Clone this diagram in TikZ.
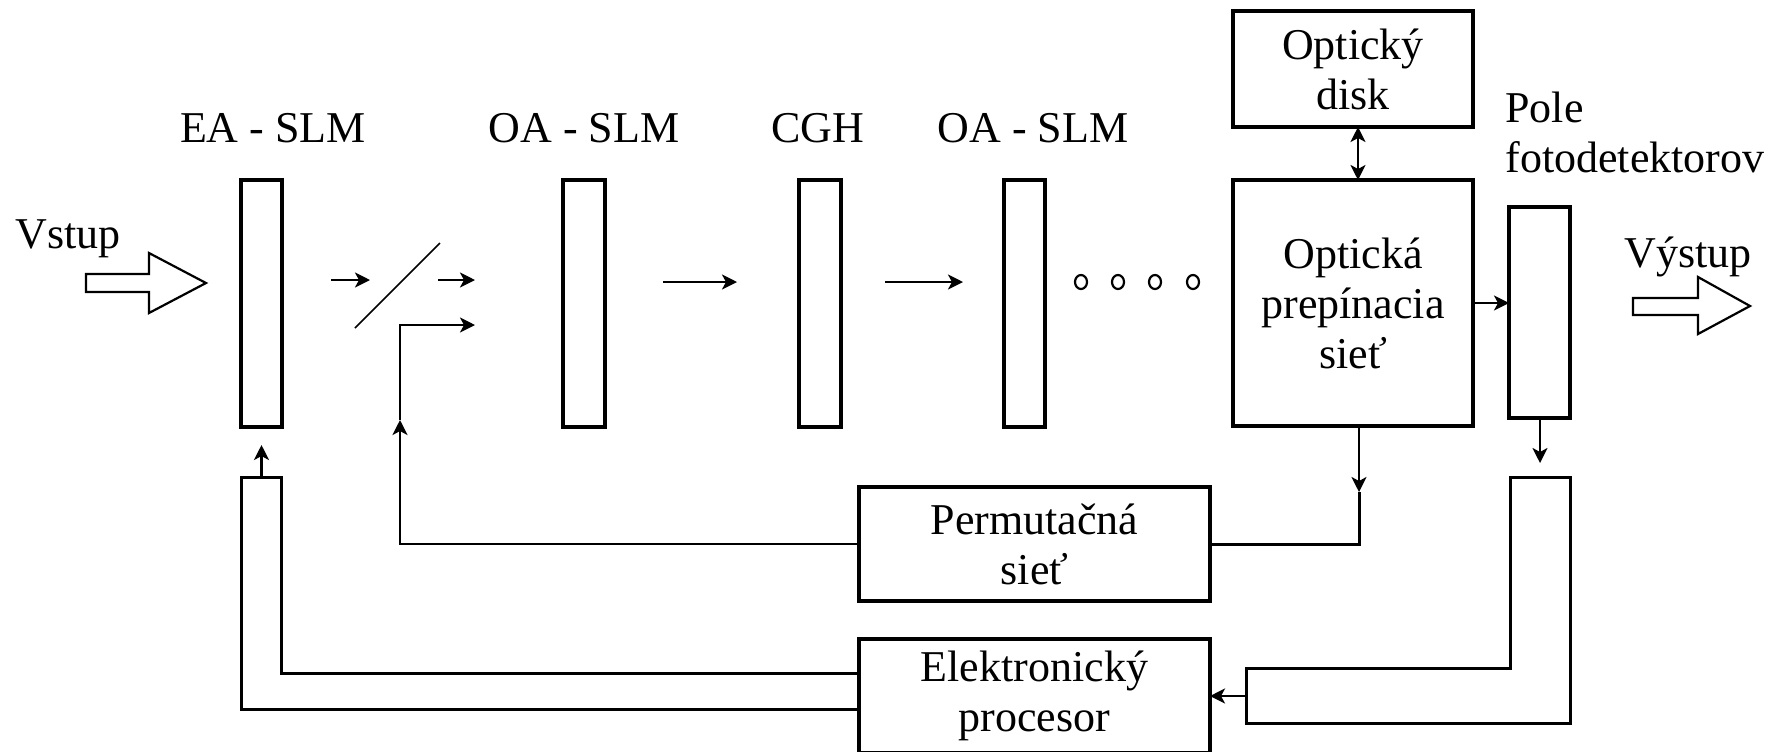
\documentclass[tikz,border=0pt]{standalone}
\usepackage{fontspec}
\setmainfont{Liberation Serif}
\usetikzlibrary{arrows.meta,calc}
\begin{document}
\begin{tikzpicture}[x=0.5pt,y=-0.5pt,
  every node/.style={font=\fontsize{22pt}{25pt}\selectfont},
  sz/.style 2 args={minimum width=#1*0.5pt,minimum height=#2*0.5pt},
  blk/.style={draw,line width=1.6pt,inner sep=0pt,outer sep=0pt,align=center},
  lbl/.style={inner sep=0pt,anchor=base},
  tip/.style={Stealth[length=7.5pt,width=7.5pt,inset=2pt]},
  arr/.style={line width=1.3pt,-{Stealth[length=7.5pt,width=7.5pt,inset=2pt]}},
  darr/.style={line width=1.3pt,{Stealth[length=7.5pt,width=7.5pt,inset=2pt]}-{Stealth[length=7.5pt,width=7.5pt,inset=2pt]}},
  wire/.style={line width=1.5pt},
  hollow/.style={line width=1.1pt,line join=miter}]
\clip (0,0) rectangle (1783,751);
\fill[white] (0,0) rectangle (1783,751);

% modulators and hologram
\node[blk,sz={41}{247}] (ea)  at (261.5,303.5) {};
\node[blk,sz={42}{247}] (oa1) at (584,303.5) {};
\node[blk,sz={42}{247}] (cgh) at (820,303.5) {};
\node[blk,sz={41}{247}] (oa2) at (1024.5,303.5) {};

\node[lbl] (lea)  at (273,142) {EA - SLM};
\node[lbl] (loa1) at (584,142) {OA - SLM};
\node[lbl] (lcgh) at (818,142) {CGH};
\node[lbl] (loa2) at (1033,142) {OA - SLM};

% switching network, disk, detector array
\node[blk,sz={240}{116}] (disk) at (1353,69) {Optický\\disk};
\node[blk,sz={240}{246}] (sw)   at (1353,303) {Optická\\prepínacia\\sieť};
\node[blk,sz={61}{211}]  (det)  at (1539.5,312.5) {};
\node[inner sep=0pt,anchor=north west,align=left] (lpole) at (1505,92) {Pole\\fotodetektorov};

% electronic part
\node[blk,sz={351}{114}] (perm) at (1034.5,544) {Permutačná\\sieť};
\node[blk,sz={351}{114}] (proc) at (1034.5,696) {Elektronický\\procesor};

% input and output
\node[lbl,anchor=base west] (lin)  at (15,248) {Vstup};
\node[lbl,anchor=base west] (lout) at (1624,267) {Výstup};
\draw[hollow] (86,274) -- (149,274) -- (149,253) -- (206,283) -- (149,313) -- (149,292) -- (86,292) -- cycle;
\draw[hollow] (1633,298) -- (1698,298) -- (1698,277) -- (1750,306) -- (1698,334) -- (1698,315) -- (1633,315) -- cycle;

% light path
\draw[arr] (331,280) -- (370,280);
\draw[line width=0.8pt] (355,328) -- (440,243);
\draw[arr] (438,280) -- (475,280);
\draw[arr] (663,282) -- (737,282);
\draw[arr] (885,282) -- (963,282);
\foreach \x in {1081,1118,1155,1193}
  \draw[line width=1.1pt] (\x,282) ellipse[x radius=6,y radius=7];

% disk <-> switch, switch -> detectors
\coordinate (sx) at (1358,0);
\draw[darr] (sx |- disk.south) -- (sx |- sw.north);
\draw[arr] (sw.east) -- (sw.east -| det.west);

% switch -> permutation network -> second input
\coordinate (swtip) at (1359,492);
\draw[arr] (sw.south -| swtip) -- (swtip);
\draw[wire] (swtip) |- (perm.east);
\coordinate (pmid) at (400,420);
\coordinate (pin) at (475,325);
\draw[arr] (perm.west) -| (pmid);
\draw[arr] (pmid) |- (pin);

% detectors -> processor
\coordinate (ltop) at (1540,463);
\draw[arr] (det.south -| ltop) -- (ltop);
\draw[wire] (1510,477) -- (1570,477) -- (1570,723) -- (1246,723) -- (1246,668) -- (1510,668) -- cycle;
\coordinate (lend) at (1246,696);
\draw[arr] (lend) -- (lend -| proc.east);

% processor -> EA-SLM
\draw[wire] ($(proc.west)+(0,-23)$) -| (281,477) -- (241,477) |- ($(proc.west)+(0,13)$);
\coordinate (ubase) at (261.5,477);
\coordinate (utip) at (261.5,445);
\draw[arr] (ubase) -- (utip);
\end{tikzpicture}
\end{document}
